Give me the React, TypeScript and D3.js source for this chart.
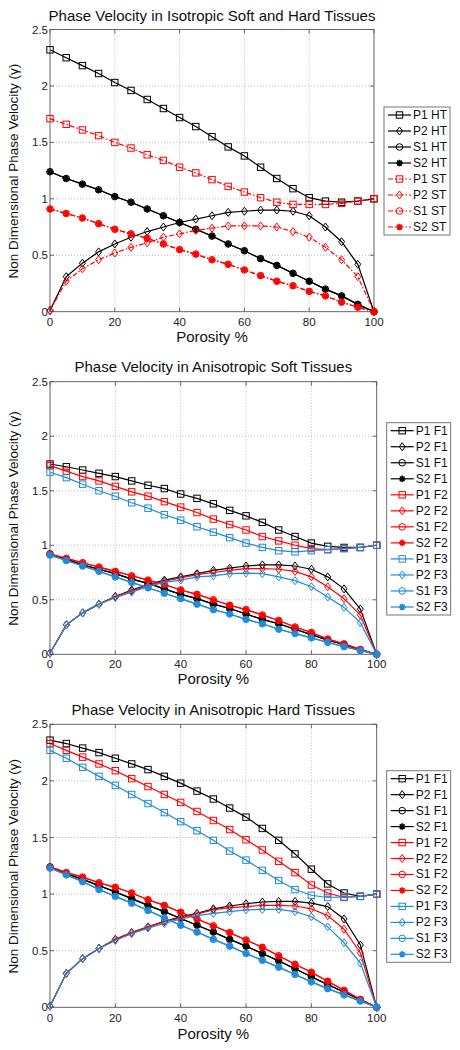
import React from "react";
import * as d3 from "d3";

const porosity = [0, 5, 10, 15, 20, 25, 30, 35, 40, 45, 50, 55, 60, 65, 70, 75, 80, 85, 90, 95, 100];
const xTicks = [0, 20, 40, 60, 80, 100];
const yTicks = [0, 0.5, 1, 1.5, 2, 2.5];

// Chart 1: isotropic soft (ST) and hard (HT) tissues
const isoP1HT = [2.32, 2.25, 2.18, 2.11, 2.03, 1.96, 1.88, 1.80, 1.72, 1.64, 1.55, 1.46, 1.38, 1.28, 1.18, 1.09, 1.01, 0.98, 0.97, 0.98, 1.00];
const isoP2HT = [0.01, 0.31, 0.43, 0.53, 0.60, 0.66, 0.71, 0.75, 0.79, 0.82, 0.85, 0.88, 0.89, 0.90, 0.90, 0.89, 0.85, 0.75, 0.62, 0.42, 0.00];
const isoSHT = [1.24, 1.18, 1.13, 1.08, 1.02, 0.97, 0.91, 0.85, 0.79, 0.73, 0.67, 0.60, 0.54, 0.47, 0.41, 0.34, 0.27, 0.20, 0.14, 0.065, 0.00];
const isoP1ST = [1.71, 1.66, 1.61, 1.56, 1.50, 1.45, 1.39, 1.34, 1.28, 1.23, 1.17, 1.11, 1.06, 1.01, 0.97, 0.95, 0.95, 0.95, 0.96, 0.98, 1.00];
const isoP2ST = [0.01, 0.27, 0.38, 0.46, 0.52, 0.57, 0.61, 0.66, 0.69, 0.72, 0.74, 0.76, 0.76, 0.76, 0.75, 0.71, 0.66, 0.57, 0.46, 0.31, 0.00];
const isoSST = [0.91, 0.87, 0.83, 0.78, 0.73, 0.69, 0.65, 0.60, 0.55, 0.51, 0.46, 0.42, 0.37, 0.32, 0.27, 0.23, 0.18, 0.14, 0.085, 0.04, 0.00];

// Chart 2: anisotropic soft tissues
const softP1F1 = [1.745, 1.72, 1.69, 1.66, 1.63, 1.59, 1.55, 1.52, 1.47, 1.43, 1.38, 1.32, 1.27, 1.21, 1.14, 1.08, 1.02, 0.99, 0.98, 0.98, 1.00];
const softP1F2 = [1.73, 1.68, 1.63, 1.59, 1.54, 1.49, 1.45, 1.40, 1.35, 1.30, 1.24, 1.19, 1.14, 1.08, 1.04, 1.00, 0.97, 0.96, 0.97, 0.98, 1.00];
const softP1F3 = [1.67, 1.62, 1.56, 1.50, 1.45, 1.39, 1.34, 1.28, 1.23, 1.17, 1.12, 1.07, 1.02, 0.98, 0.95, 0.94, 0.95, 0.96, 0.97, 0.98, 1.00];
const softP2F1 = [0.01, 0.27, 0.38, 0.46, 0.53, 0.59, 0.64, 0.68, 0.71, 0.74, 0.77, 0.79, 0.81, 0.82, 0.82, 0.81, 0.78, 0.71, 0.60, 0.415, 0.00];
const softP2F2 = [0.01, 0.27, 0.38, 0.46, 0.53, 0.58, 0.63, 0.67, 0.70, 0.73, 0.75, 0.77, 0.785, 0.785, 0.78, 0.76, 0.71, 0.62, 0.51, 0.36, 0.00];
const softP2F3 = [0.01, 0.27, 0.38, 0.46, 0.52, 0.57, 0.62, 0.66, 0.68, 0.71, 0.72, 0.74, 0.745, 0.74, 0.71, 0.675, 0.62, 0.525, 0.43, 0.29, 0.00];
const softSF1 = [0.92, 0.87, 0.82, 0.78, 0.74, 0.69, 0.65, 0.60, 0.55, 0.51, 0.46, 0.42, 0.37, 0.32, 0.28, 0.23, 0.18, 0.13, 0.09, 0.04, 0.00];
const softSF2 = [0.92, 0.88, 0.84, 0.80, 0.76, 0.72, 0.68, 0.64, 0.59, 0.55, 0.50, 0.45, 0.41, 0.36, 0.31, 0.25, 0.20, 0.14, 0.095, 0.045, 0.00];
const softSF3 = [0.91, 0.86, 0.81, 0.76, 0.71, 0.66, 0.61, 0.56, 0.51, 0.46, 0.41, 0.37, 0.32, 0.28, 0.23, 0.19, 0.15, 0.11, 0.07, 0.035, 0.00];

// Chart 3: anisotropic hard tissues
const hardP1F1 = [2.36, 2.33, 2.29, 2.25, 2.20, 2.15, 2.10, 2.04, 1.98, 1.91, 1.84, 1.76, 1.68, 1.58, 1.475, 1.355, 1.22, 1.09, 1.01, 0.98, 1.00];
const hardP1F2 = [2.33, 2.27, 2.21, 2.15, 2.09, 2.02, 1.95, 1.88, 1.81, 1.73, 1.65, 1.57, 1.48, 1.39, 1.29, 1.19, 1.08, 1.01, 0.97, 0.98, 1.00];
const hardP1F3 = [2.27, 2.20, 2.12, 2.04, 1.96, 1.88, 1.80, 1.72, 1.64, 1.56, 1.475, 1.38, 1.30, 1.21, 1.12, 1.04, 0.99, 0.97, 0.975, 0.98, 1.00];
const hardP2F1 = [0.01, 0.30, 0.43, 0.52, 0.60, 0.66, 0.71, 0.76, 0.80, 0.83, 0.87, 0.895, 0.915, 0.93, 0.935, 0.935, 0.92, 0.89, 0.78, 0.55, 0.00];
const hardP2F2 = [0.01, 0.30, 0.43, 0.52, 0.60, 0.66, 0.71, 0.755, 0.79, 0.825, 0.86, 0.88, 0.89, 0.90, 0.90, 0.895, 0.87, 0.81, 0.69, 0.48, 0.00];
const hardP2F3 = [0.01, 0.30, 0.43, 0.52, 0.59, 0.65, 0.70, 0.74, 0.78, 0.81, 0.83, 0.845, 0.86, 0.865, 0.865, 0.845, 0.80, 0.71, 0.57, 0.39, 0.00];
const hardSF1 = [1.24, 1.18, 1.13, 1.075, 1.02, 0.96, 0.90, 0.845, 0.785, 0.725, 0.665, 0.60, 0.54, 0.475, 0.41, 0.34, 0.27, 0.20, 0.135, 0.065, 0.00];
const hardSF2 = [1.24, 1.19, 1.15, 1.10, 1.06, 1.01, 0.95, 0.90, 0.84, 0.78, 0.72, 0.66, 0.595, 0.53, 0.455, 0.38, 0.31, 0.23, 0.15, 0.07, 0.00];
const hardSF3 = [1.23, 1.17, 1.11, 1.04, 0.98, 0.92, 0.855, 0.79, 0.725, 0.665, 0.60, 0.54, 0.475, 0.415, 0.355, 0.29, 0.225, 0.165, 0.11, 0.055, 0.00];

const BLACK = "#000000";
const RED = "#ff0000";
const BLUE = "#1f8ad6";
const FONT = "'Liberation Sans', Arial, Helvetica, sans-serif";

type Marker = "square" | "diamond" | "circle" | "star";
type Series = { name: string; values: number[]; color: string; marker: Marker; dash?: string };

const chart1Series: Series[] = [
  { name: "P1 HT", values: isoP1HT, color: BLACK, marker: "square" },
  { name: "P2 HT", values: isoP2HT, color: BLACK, marker: "diamond" },
  { name: "S1 HT", values: isoSHT, color: BLACK, marker: "circle" },
  { name: "S2 HT", values: isoSHT, color: BLACK, marker: "star" },
  { name: "P1 ST", values: isoP1ST, color: RED, marker: "square", dash: "5,2,1.5,2" },
  { name: "P2 ST", values: isoP2ST, color: RED, marker: "diamond", dash: "5,2,1.5,2" },
  { name: "S1 ST", values: isoSST, color: RED, marker: "circle", dash: "5,2,1.5,2" },
  { name: "S2 ST", values: isoSST, color: RED, marker: "star", dash: "5,2,1.5,2" },
];

const chart2Series: Series[] = [
  { name: "P1 F1", values: softP1F1, color: BLACK, marker: "square" },
  { name: "P2 F1", values: softP2F1, color: BLACK, marker: "diamond" },
  { name: "S1 F1", values: softSF1, color: BLACK, marker: "circle" },
  { name: "S2 F1", values: softSF1, color: BLACK, marker: "star" },
  { name: "P1 F2", values: softP1F2, color: RED, marker: "square" },
  { name: "P2 F2", values: softP2F2, color: RED, marker: "diamond" },
  { name: "S1 F2", values: softSF2, color: RED, marker: "circle" },
  { name: "S2 F2", values: softSF2, color: RED, marker: "star" },
  { name: "P1 F3", values: softP1F3, color: BLUE, marker: "square" },
  { name: "P2 F3", values: softP2F3, color: BLUE, marker: "diamond" },
  { name: "S1 F3", values: softSF3, color: BLUE, marker: "circle" },
  { name: "S2 F3", values: softSF3, color: BLUE, marker: "star" },
];

const chart3Series: Series[] = [
  { name: "P1 F1", values: hardP1F1, color: BLACK, marker: "square" },
  { name: "P2 F1", values: hardP2F1, color: BLACK, marker: "diamond" },
  { name: "S1 F1", values: hardSF1, color: BLACK, marker: "circle" },
  { name: "S2 F1", values: hardSF1, color: BLACK, marker: "star" },
  { name: "P1 F2", values: hardP1F2, color: RED, marker: "square" },
  { name: "P2 F2", values: hardP2F2, color: RED, marker: "diamond" },
  { name: "S1 F2", values: hardSF2, color: RED, marker: "circle" },
  { name: "S2 F2", values: hardSF2, color: RED, marker: "star" },
  { name: "P1 F3", values: hardP1F3, color: BLUE, marker: "square" },
  { name: "P2 F3", values: hardP2F3, color: BLUE, marker: "diamond" },
  { name: "S1 F3", values: hardSF3, color: BLUE, marker: "circle" },
  { name: "S2 F3", values: hardSF3, color: BLUE, marker: "star" },
];

function MarkerShape({ type, x, y, color }: { type: Marker; x: number; y: number; color: string }) {
  if (type === "square") {
    const s = 3.2;
    return <rect x={x - s} y={y - s} width={2 * s} height={2 * s} fill="none" stroke={color} strokeWidth={1} />;
  }
  if (type === "diamond") {
    const s = 4;
    return (
      <path d={`M${x},${y - s}L${x + s * 0.75},${y}L${x},${y + s}L${x - s * 0.75},${y}Z`} fill="none" stroke={color} strokeWidth={1} />
    );
  }
  if (type === "circle") {
    return <circle cx={x} cy={y} r={3.3} fill="none" stroke={color} strokeWidth={1} />;
  }
  const r = 3.3;
  const d = [0, 45, 90, 135]
    .map((a) => {
      const t = (a * Math.PI) / 180;
      return `M${x - r * Math.cos(t)},${y - r * Math.sin(t)}L${x + r * Math.cos(t)},${y + r * Math.sin(t)}`;
    })
    .join("");
  return <path d={d} stroke={color} strokeWidth={1.6} fill="none" />;
}

type ChartProps = {
  title: string;
  series: Series[];
  left: number;
  right: number;
  top: number;
  bottom: number;
  titleY: number;
  xTickY: number;
  xLabelY: number;
  legend: { x0: number; x1: number; y0: number; y1: number };
};

function Chart({ title, series, left, right, top, bottom, titleY, xTickY, xLabelY, legend }: ChartProps) {
  const x = d3.scaleLinear().domain([0, 100]).range([left, right]);
  const y = d3.scaleLinear().domain([0, 2.5]).range([bottom, top]);
  const line = d3
    .line<number>()
    .x((_, i) => x(porosity[i]))
    .y((v) => y(v));
  const rowH = (legend.y1 - legend.y0) / series.length;
  const tickLen = 4;
  return (
    <g>
      <text x={(left + right) / 2} y={titleY} textAnchor="middle" dominantBaseline="central" fontSize={15} fontFamily={FONT} fill="#111">
        {title}
      </text>
      <rect x={left} y={top} width={right - left} height={bottom - top} fill="#fff" />
      {xTicks.slice(1, -1).map((t) => (
        <line key={"gx" + t} x1={x(t)} x2={x(t)} y1={top} y2={bottom} stroke="#aaa" strokeWidth={0.8} strokeDasharray="1,2" />
      ))}
      {yTicks.slice(1, -1).map((t) => (
        <line key={"gy" + t} x1={left} x2={right} y1={y(t)} y2={y(t)} stroke="#aaa" strokeWidth={0.8} strokeDasharray="1,2" />
      ))}
      {xTicks.map((t) => (
        <g key={"tx" + t}>
          <line x1={x(t)} x2={x(t)} y1={bottom} y2={bottom - tickLen} stroke="#444" strokeWidth={0.8} />
          <line x1={x(t)} x2={x(t)} y1={top} y2={top + tickLen} stroke="#444" strokeWidth={0.8} />
          <text x={x(t)} y={xTickY} textAnchor="middle" dominantBaseline="central" fontSize={11.5} fontFamily={FONT} fill="#222">
            {t}
          </text>
        </g>
      ))}
      {yTicks.map((t) => (
        <g key={"ty" + t}>
          <line x1={left} x2={left + tickLen} y1={y(t)} y2={y(t)} stroke="#444" strokeWidth={0.8} />
          <line x1={right} x2={right - tickLen} y1={y(t)} y2={y(t)} stroke="#444" strokeWidth={0.8} />
          <text x={left - 2} y={y(t)} textAnchor="end" dominantBaseline="central" fontSize={11.5} fontFamily={FONT} fill="#222">
            {t}
          </text>
        </g>
      ))}
      <rect x={left} y={top} width={right - left} height={bottom - top} fill="none" stroke="#555" strokeWidth={0.9} />
      {series.map((s, si) => (
        <g key={"s" + si}>
          <path d={line(s.values) || ""} fill="none" stroke={s.color} strokeWidth={1.2} strokeDasharray={s.dash} />
          {s.values.map((v, i) => (
            <MarkerShape key={i} type={s.marker} x={x(porosity[i])} y={y(v)} color={s.color} />
          ))}
        </g>
      ))}
      <text x={(left + right) / 2} y={xLabelY} textAnchor="middle" dominantBaseline="central" fontSize={15} fontFamily={FONT} fill="#111">
        Porosity %
      </text>
      <text
        transform={`translate(13,${(top + bottom) / 2 + 0.5}) rotate(-90)`}
        textAnchor="middle"
        dominantBaseline="central"
        fontSize={13.5}
        fontFamily={FONT}
        fill="#111"
      >
        Non Dimensional Phase Velocity (γ)
      </text>
      <rect x={legend.x0} y={legend.y0} width={legend.x1 - legend.x0} height={legend.y1 - legend.y0} fill="#fff" stroke="#777" strokeWidth={1} />
      {series.map((s, i) => {
        const cy = legend.y0 + rowH * (i + 0.5);
        const lx0 = legend.x0 + 4;
        const lx1 = legend.x0 + 27;
        return (
          <g key={"l" + i}>
            <line x1={lx0} x2={lx1} y1={cy} y2={cy} stroke={s.color} strokeWidth={1.2} strokeDasharray={s.dash} />
            <MarkerShape type={s.marker} x={(lx0 + lx1) / 2} y={cy} color={s.color} />
            <text x={lx1 + 2} y={cy} dominantBaseline="central" fontSize={12} fontFamily={FONT} fill="#111">
              {s.name}
            </text>
          </g>
        );
      })}
    </g>
  );
}

export default function App() {
  return (
    <svg width={460} height={1050} style={{ position: "absolute", left: 0, top: 0, background: "#fff" }}>
      <rect width={460} height={1050} fill="#fff" />
      <Chart
        title="Phase Velocity in Isotropic Soft and Hard Tissues"
        series={chart1Series}
        left={50}
        right={374}
        top={29.5}
        bottom={311.7}
        titleY={15}
        xTickY={322}
        xLabelY={336}
        legend={{ x0: 384, x1: 450, y0: 107, y1: 235 }}
      />
      <Chart
        title="Phase Velocity in Anisotropic Soft Tissues"
        series={chart2Series}
        left={50}
        right={376.7}
        top={381.7}
        bottom={654.3}
        titleY={366.7}
        xTickY={663.5}
        xLabelY={678.5}
        legend={{ x0: 386.7, x1: 450.7, y0: 422.7, y1: 615 }}
      />
      <Chart
        title="Phase Velocity in Anisotropic Hard Tissues"
        series={chart3Series}
        left={50}
        right={376.7}
        top={724.3}
        bottom={1007.3}
        titleY={709}
        xTickY={1018}
        xLabelY={1033}
        legend={{ x0: 386.7, x1: 450.7, y0: 770.7, y1: 962.3 }}
      />
    </svg>
  );
}
